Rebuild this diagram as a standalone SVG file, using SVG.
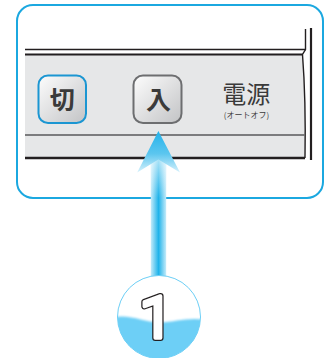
<svg xmlns="http://www.w3.org/2000/svg" width="331" height="358" viewBox="0 0 331 358">
  <style>
    .ln { fill: none; stroke: #231f20; stroke-linecap: butt; }
    .btn { stroke-width: 2; }
    .jp { font-family: "Noto Sans CJK JP", "Noto Sans CJK SC", sans-serif; fill: #3a3a3a; text-anchor: middle; }
    .bt { font-size: 25px; font-weight: 700; }
    .num { font-family: Roboto, "Noto Sans", sans-serif; font-size: 60px; text-anchor: middle; stroke-linejoin: round; stroke-linecap: round; }
  </style>
  <defs>
    <linearGradient id="btnGrad" x1="0" y1="0" x2="1" y2="1">
      <stop offset="0" stop-color="#fdfdfd"/>
      <stop offset="1" stop-color="#c2c3c5"/>
    </linearGradient>
    <linearGradient id="shaftGrad" x1="0" y1="0" x2="1" y2="0">
      <stop offset="0" stop-color="#c4ebfa"/>
      <stop offset="0.5" stop-color="#20b3ea"/>
      <stop offset="1" stop-color="#c4ebfa"/>
    </linearGradient>
    <linearGradient id="shaftFade" x1="0" y1="0" x2="0" y2="1">
      <stop offset="0" stop-color="#ffffff" stop-opacity="0.65"/>
      <stop offset="1" stop-color="#ffffff" stop-opacity="0"/>
    </linearGradient>
    <linearGradient id="headGrad" x1="0" y1="0" x2="0" y2="1">
      <stop offset="0" stop-color="#22b2ea"/>
      <stop offset="0.55" stop-color="#5cc6ef"/>
      <stop offset="1" stop-color="#d8f2fc"/>
    </linearGradient>
    <clipPath id="circClip">
      <circle cx="159" cy="317" r="41.5"/>
    </clipPath>
    <filter id="soft" x="-10%" y="-20%" width="120%" height="140%">
      <feGaussianBlur stdDeviation="1.3"/>
    </filter>
  </defs>

  <g id="frame">
    <rect x="17" y="5" width="306" height="193" rx="16" fill="#ffffff" stroke="#1ba8e0" stroke-width="2"/>
  </g>

  <g id="panel">
    <path d="M25,55 L302.5,55 Q306,100 305,158 L25,158 Z" fill="#e6e7e8"/>
    <line class="ln" x1="25" y1="49.5" x2="305.5" y2="49.5" stroke-width="1.3"/>
    <line class="ln" x1="25" y1="54.5" x2="302.5" y2="54.5" stroke-width="2.2"/>
    <path class="ln" d="M305.5,29 L305.5,49.5 L302.5,54.5 Q306,100 305,158" stroke-width="1.4"/>
    <line class="ln" x1="311" y1="28" x2="311" y2="160" stroke-width="2.2"/>
    <line x1="25" y1="135" x2="304.5" y2="135" stroke="#58595b" stroke-width="1.6"/>
    <line class="ln" x1="25" y1="158" x2="305" y2="158" stroke-width="2.6"/>
  </g>

  <g id="btn-off">
    <rect class="btn" x="38.5" y="75.5" width="47.5" height="47.5" rx="9.5" fill="url(#btnGrad)" stroke="#1b96d2"/>
    <text class="jp bt" x="62.3" y="108.5">切</text>
  </g>

  <g id="btn-on">
    <rect class="btn" x="133.5" y="75.5" width="48" height="47.5" rx="9.5" fill="url(#btnGrad)" stroke="#6d6e70"/>
    <text class="jp bt" x="158.5" y="109">入</text>
  </g>

  <g id="label-power">
    <text class="jp" x="246.3" y="103" font-size="24">電源</text>
    <text class="jp" x="246.5" y="118.3" font-size="8">(オートオフ)</text>
  </g>

  <g id="connectors">
    <rect x="150.8" y="158" width="15.4" height="122" fill="url(#shaftGrad)"/>
    <rect x="150.8" y="158" width="15.4" height="40" fill="url(#shaftFade)"/>
    <path d="M158.4,131 L180,172.5 L158.4,159.5 L137.2,172.5 Z" fill="url(#headGrad)"/>
  </g>

  <g id="badge">
    <circle cx="159" cy="317" r="41.5" fill="#ffffff"/>
    <g clip-path="url(#circClip)">
      <path d="M112,318 C128,313 145,323 160,322.5 C176,322 188,317 206,320 L206,362 L112,362 Z" fill="#6dcff6" filter="url(#soft)"/>
    </g>
    <circle cx="159" cy="317" r="41.5" fill="none" stroke="#6dcff6" stroke-width="1"/>
    <text class="num" x="156" y="337.5" fill="#231f20" stroke="#231f20" stroke-width="6">1</text>
    <text class="num" x="156" y="337.5" fill="#ffffff" stroke="#ffffff" stroke-width="3.4">1</text>
  </g>
</svg>
